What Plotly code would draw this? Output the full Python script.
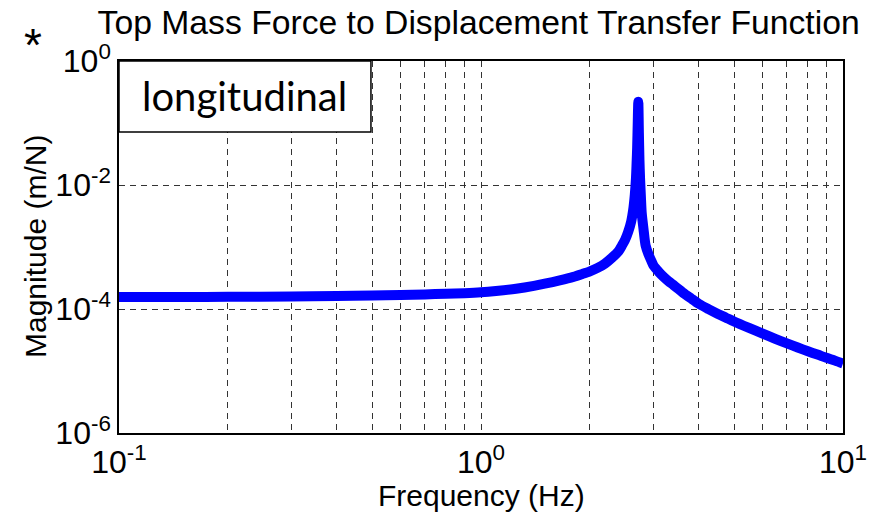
import plotly.graph_objects as go

# Data
freq_hz = [0.1, 0.15, 0.2, 0.3, 0.4, 0.5, 0.6, 0.7, 0.8, 0.9, 1.0, 1.1, 1.25, 1.4,
           1.5, 1.65, 1.8, 1.9, 2.0, 2.1, 2.2, 2.3, 2.4, 2.45, 2.5, 2.55, 2.6,
           2.63, 2.66, 2.68, 2.69, 2.70, 2.71, 2.72, 2.73, 2.74, 2.75, 2.765,
           2.78, 2.81, 2.85, 2.9, 2.95, 3.0, 3.1, 3.2, 3.3, 3.4, 3.5, 3.6, 3.8,
           4.0, 4.25, 4.5, 4.75, 5.0, 5.5, 6.0, 6.5, 7.0, 7.5, 8.0, 8.5, 9.0,
           9.5, 10.0]
magnitude = [1.56e-4, 1.565e-4, 1.57e-4, 1.59e-4, 1.62e-4, 1.65e-4, 1.68e-4,
             1.72e-4, 1.76e-4, 1.8e-4, 1.86e-4, 1.95e-4, 2.12e-4, 2.36e-4,
             2.56e-4, 2.9e-4, 3.3e-4, 3.65e-4, 4.05e-4, 4.6e-4, 5.4e-4, 6.7e-4,
             8.6e-4, 1.05e-3, 1.3e-3, 1.75e-3, 2.6e-3,
             3.8e-3, 7e-3, 1.3e-2, 2.2e-2, 4e-2, 0.1, 0.22, 0.07, 2.5e-2, 1.3e-2,
             6.5e-3, 3.5e-3, 2e-3, 1.05e-3, 7.7e-4, 6.1e-4, 4.95e-4, 3.95e-4,
             3.28e-4, 2.8e-4, 2.44e-4, 2.13e-4, 1.87e-4, 1.49e-4,
             1.21e-4, 9.95e-5, 8.4e-5, 7.25e-5, 6.3e-5, 4.96e-5, 4.01e-5, 3.31e-5,
             2.79e-5, 2.39e-5, 2.08e-5, 1.84e-5, 1.63e-5, 1.47e-5, 1.32e-5]

x_grid_vals = [0.1, 0.2, 0.3, 0.4, 0.5, 0.6, 0.7, 0.8, 0.9, 1, 2, 3, 4, 5, 6, 7, 8, 9, 10]
x_grid_text = ["10<sup>-1</sup>"] + [""] * 8 + ["10<sup>0</sup>"] + [""] * 8 + ["10<sup>1</sup>"]
y_tick_vals = [1e-6, 1e-4, 1e-2, 1]
y_tick_text = ["10<sup>-6</sup>", "10<sup>-4</sup>", "10<sup>-2</sup>", "10<sup>0</sup>"]

FONT = "Liberation Sans, Arial, sans-serif"

fig = go.Figure()
fig.add_trace(go.Scatter(
    x=freq_hz, y=magnitude, mode="lines",
    line=dict(color="#0000ff", width=10, shape="spline", smoothing=0.8),
    showlegend=False, hoverinfo="skip",
))

axis_common = dict(
    type="log", automargin=False,
    showline=True, mirror=True, linecolor="black", linewidth=1.5,
    showgrid=True, gridcolor="#333333", gridwidth=1, griddash="6px,5px",
    zeroline=False, ticks="", tickfont=dict(family=FONT, size=32, color="black"),
)

fig.update_xaxes(**axis_common, range=[-1, 1], tickvals=x_grid_vals, ticktext=x_grid_text)
fig.update_yaxes(**axis_common, range=[-6, 0], tickvals=y_tick_vals, ticktext=y_tick_text)

fig.update_layout(
    width=888, height=513,
    margin=dict(l=119, r=45, t=61, b=80, autoexpand=False),
    paper_bgcolor="white", plot_bgcolor="white",
    title=dict(text="Top Mass Force to Displacement Transfer Function",
               font=dict(family=FONT, size=33.7, color="black"),
               x=0.539, xanchor="center", y=0.957, yanchor="middle",
               xref="container", yref="container"),
    shapes=[dict(type="rect", xref="paper", yref="paper",
                 x0=0, x1=0.348, y0=0.809, y1=1.0,
                 line=dict(color="black", width=1.5), fillcolor="white", layer="above")],
    annotations=[
        dict(text="Frequency (Hz)", xref="paper", yref="paper", x=0.5, y=-0.169,
             xanchor="center", yanchor="middle", showarrow=False,
             font=dict(family=FONT, size=30, color="black")),
        dict(text="Magnitude (m/N)", xref="paper", yref="paper", x=-0.116, y=0.5,
             xanchor="center", yanchor="middle", showarrow=False, textangle=-90,
             font=dict(family=FONT, size=30, color="black")),
        dict(text="longitudinal", xref="paper", yref="paper", x=0.174, y=0.905,
             xanchor="center", yanchor="middle", showarrow=False,
             font=dict(family="Lato, Open Sans, sans-serif", size=40, color="black")),
        dict(text="*", xref="paper", yref="paper", x=-0.119, y=1.043,
             xanchor="center", yanchor="middle", showarrow=False,
             font=dict(family=FONT, size=46, color="black")),
    ],
)

fig.write_html(
    "out.html",
    config={"displayModeBar": False},
    post_script="document.body.style.margin='0';document.body.style.padding='0';"
                "document.body.style.overflow='hidden';",
)
